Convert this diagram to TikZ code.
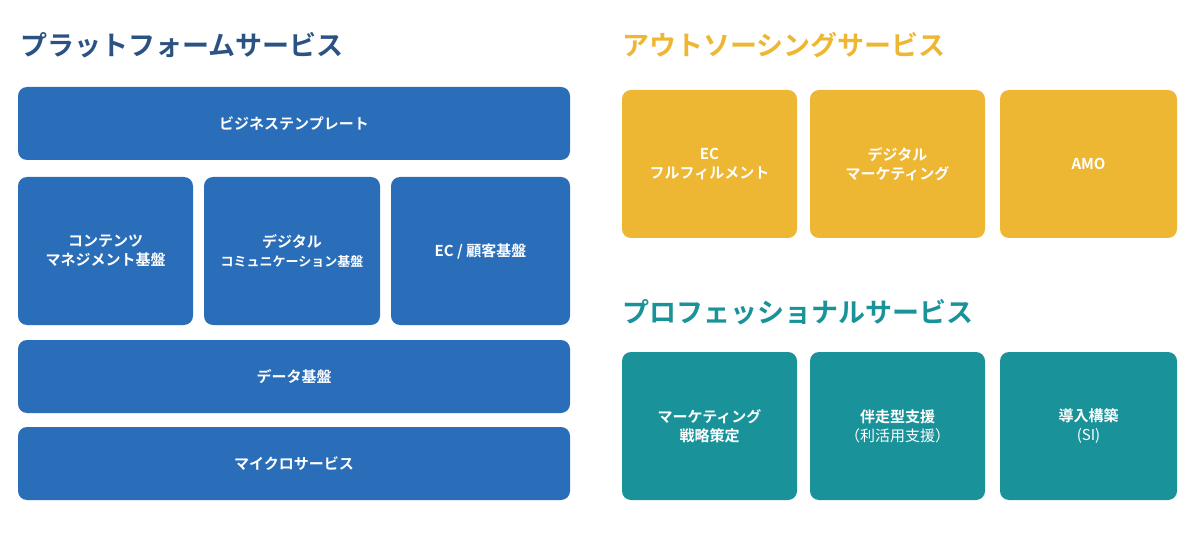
\documentclass[tikz,border=0pt]{standalone}
\usepackage{fontspec}
\setmainfont{Noto Sans CJK JP}[BoldFont={Noto Sans CJK JP Bold}]
\definecolor{bblue}{HTML}{2A6DB8}
\definecolor{oran}{HTML}{EDB734}
\definecolor{teal2}{HTML}{1A9299}
\definecolor{tblue}{HTML}{2C5283}
\begin{document}
\begin{tikzpicture}[x=1pt,y=-1pt,
 box/.style={rounded corners=9pt,text=white,font=\bfseries\fontsize{15}{19}\selectfont,align=center,inner sep=0pt},
 ttl/.style={anchor=west,font=\bfseries\fontsize{27}{30}\selectfont,inner sep=0pt}]
\useasboundingbox (0,0) rectangle (1200,540);
\newcommand{\bx}[6]{\fill[#1,rounded corners=9pt] (#2,#3) rectangle (#4,#5); \node[box] at ({(#2+#4)/2},{(#3+#5)/2}) {#6};}
\node[ttl,text=tblue] (t1) at (20,45) {プラットフォームサービス};
\node[ttl,text=oran] (t2) at (622,45) {アウトソーシングサービス};
\node[ttl,text=teal2] (t3) at (622,312) {プロフェッショナルサービス};
\bx{bblue}{18}{87}{570}{160}{ビジネステンプレート}
\bx{bblue}{18}{177}{193}{325}{コンテンツ\\マネジメント基盤}
\bx{bblue}{204}{177}{380}{325}{デジタル\\{\fontsize{13}{19}\selectfont コミュニケーション基盤}}
\bx{bblue}{391}{177}{570}{325}{EC / 顧客基盤}
\bx{bblue}{18}{340}{570}{413}{データ基盤}
\bx{bblue}{18}{427}{570}{500}{マイクロサービス}
\bx{oran}{622}{90}{797}{238}{EC\\フルフィルメント}
\bx{oran}{810}{90}{985}{238}{デジタル\\マーケティング}
\bx{oran}{1000}{90}{1177}{238}{AMO}
\bx{teal2}{622}{352}{797}{500}{マーケティング\\戦略策定}
\bx{teal2}{810}{352}{985}{500}{伴走型支援\\{\mdseries（利活用支援）}}
\bx{teal2}{1000}{352}{1177}{500}{導入構築\\{\mdseries (SI)}}
\end{tikzpicture}
\end{document}
